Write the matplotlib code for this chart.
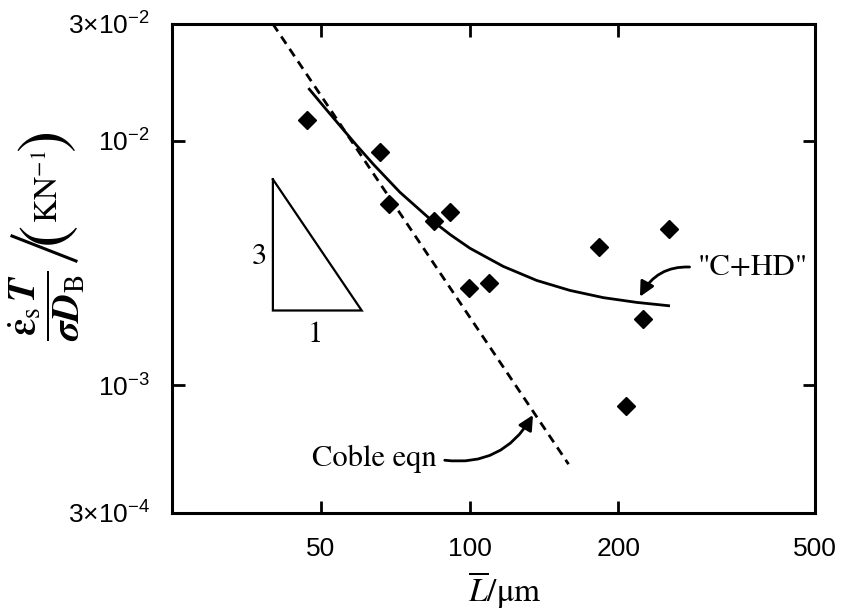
import numpy as np
import matplotlib.pyplot as plt
from matplotlib.lines import Line2D
from matplotlib.ticker import NullLocator

# measured points: mean grain size vs normalised creep rate
grain_L = [47.0, 65.9, 68.7, 84.8, 91.5, 99.7, 109.5, 183.0, 253.2, 224.6, 207.1]
rate = [1.21e-2, 9.0e-3, 5.5e-3, 4.7e-3, 5.1e-3, 2.49e-3, 2.62e-3,
        3.66e-3, 4.35e-3, 1.86e-3, 8.2e-4]

# "C+HD" model curve
chd_L = [47.2, 51.0, 54.7, 59.0, 63.9, 72.3, 83.2, 91.5, 100.2, 117.0, 136.8,
         159.7, 186.5, 217.9, 254.4]
chd_rate = [1.64e-2, 1.36e-2, 1.15e-2, 9.6e-3, 8.0e-3, 6.15e-3, 4.78e-3, 4.12e-3,
            3.63e-3, 3.06e-3, 2.68e-3, 2.44e-3, 2.28e-3, 2.18e-3, 2.11e-3]

# Coble equation (slope -3)
coble_L = [40.0, 158.6]
coble_rate = [3.0e-2, 4.75e-4]

# slope triangle 3:1
tri_L = [40.0, 40.0, 60.5, 40.0]
tri_rate = [6.95e-3, 2.02e-3, 2.02e-3, 6.95e-3]

xticks = [50, 100, 200, 500]
xlabels = ['50', '100', '200', '500']
yticks = [3e-4, 1e-3, 1e-2, 3e-2]
ylabels = [r'$3{\times}10^{-4}$', r'$10^{-3}$', r'$10^{-2}$', r'$3{\times}10^{-2}$']

W, H = 841, 613


def main():
    plt.rcParams.update({
        'font.family': 'Liberation Sans',
        'mathtext.fontset': 'custom',
        'mathtext.rm': 'Liberation Sans',
        'mathtext.it': 'Liberation Sans:italic',
        'mathtext.bf': 'Liberation Sans:bold',
    })
    serif = 'STIXGeneral'

    fig = plt.figure(figsize=(W / 100, H / 100), dpi=100)
    ax = fig.add_axes([172 / W, 1 - 513 / H, 643 / W, 489 / H])
    ax.set_xscale('log')
    ax.set_yscale('log')

    ax.plot(coble_L, coble_rate, color='black', lw=2.0, linestyle=(0, (3.2, 2.2)))
    ax.plot(chd_L, chd_rate, color='black', lw=2.0, solid_capstyle='butt')
    ax.plot(grain_L, rate, 'D', color='black', markersize=9)
    ax.plot(tri_L, tri_rate, color='black', lw=1.6, solid_joinstyle='miter')

    ax.text(37.5, 3.34e-3, '3', fontsize=22, family=serif, ha='center', va='center')
    ax.text(48.7, 1.6e-3, '1', fontsize=22, family=serif, ha='center', va='center')

    arrow = dict(arrowstyle='-|>', color='black', lw=2.0, mutation_scale=22,
                 shrinkA=4, shrinkB=0)
    ax.annotate('Coble eqn', xy=(134.4, 7.55e-4), xytext=(64.1, 4.99e-4),
                fontsize=22, family=serif, ha='center', va='center',
                arrowprops=dict(arrow, connectionstyle='arc3,rad=0.35', relpos=(1, 0.5)))
    ax.annotate('"C+HD"', xy=(221.2, 2.3e-3), xytext=(374.5, 3.02e-3),
                fontsize=22, family=serif, ha='center', va='center',
                arrowprops=dict(arrow, connectionstyle='arc3,rad=0.35', relpos=(0, 0.5)))

    ax.set_xlim(25, 500)
    ax.set_ylim(3e-4, 3e-2)
    ax.set_xticks(xticks, xlabels)
    ax.set_yticks(yticks, ylabels)
    ax.xaxis.set_minor_locator(NullLocator())
    ax.yaxis.set_minor_locator(NullLocator())
    ax.tick_params(which='major', direction='in', length=9, width=2.0,
                   top=True, right=True, labelsize=19)
    ax.tick_params(axis='x', pad=17)
    ax.tick_params(axis='y', pad=16)
    for sp in ax.spines.values():
        sp.set_linewidth(2.2)

    fig.text(505 / W, 1 - 590 / H, r'$\overline{L}$/μm', fontsize=24, family=serif,
             math_fontfamily='stix', ha='center', va='center')

    # y label built from pieces so the slash and brackets can be tall
    def ylab(x, y, s, size):
        fig.text(x / W, 1 - y / H, s, fontsize=size, family=serif, math_fontfamily='stix',
                 rotation=90, ha='center', va='center')

    ylab(47, 306, r'$\dfrac{\dot{\boldsymbol{\varepsilon}}_{\mathrm{s}}\,\boldsymbol{T}}'
                  r'{\boldsymbol{\sigma}\boldsymbol{D}_{\mathrm{B}}}$', 28)
    fig.add_artist(Line2D([12 / W, 76 / W], [1 - 236 / H, 1 - 261 / H],
                          color='black', lw=2.2))
    ylab(47, 233, '(', 48)
    ylab(49, 187, r'KN$^{\mathrm{-1}}$', 23)
    ylab(47, 140, ')', 48)

    fig.savefig('out.png', dpi=100)


if __name__ == "__main__":
    main()
